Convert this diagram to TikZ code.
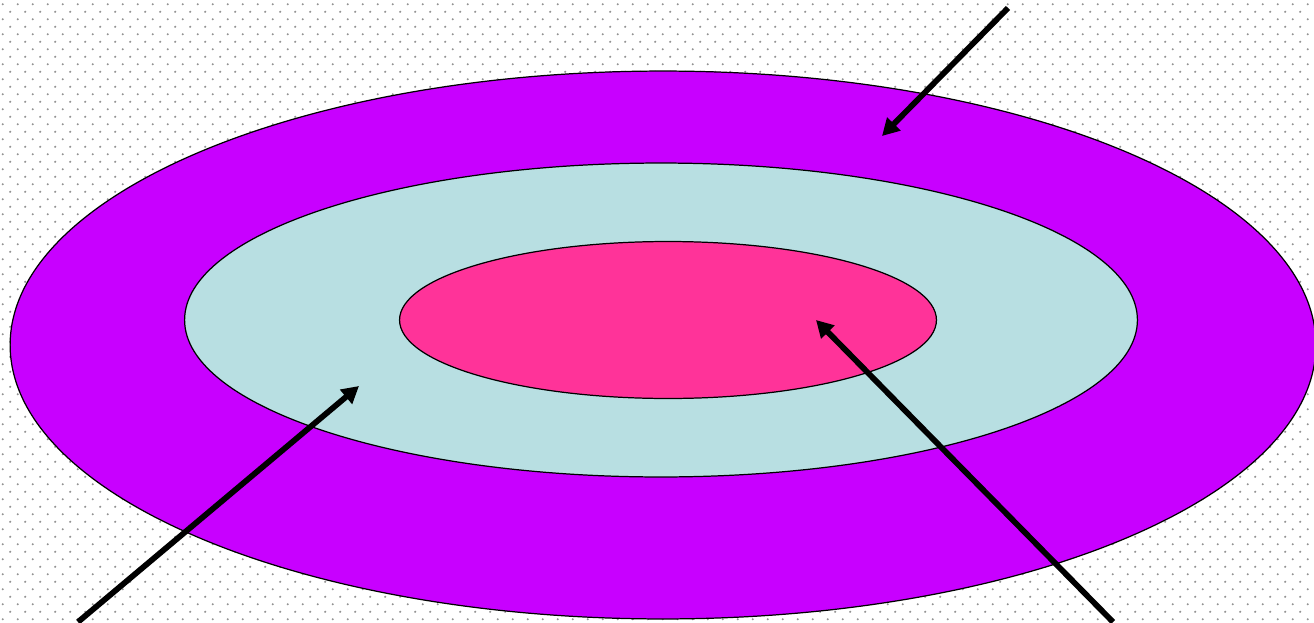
\documentclass[tikz,border=0pt]{standalone}
\usepackage{tikz}
\usetikzlibrary{arrows.meta,shapes.geometric,patterns}
\definecolor{outerpurple}{HTML}{C800FF}
\definecolor{midcyan}{HTML}{B8DFE2}
\definecolor{innerpink}{HTML}{FF3399}
\pgfdeclarepatternformonly{bgdots}{\pgfqpoint{0pt}{0pt}}{\pgfqpoint{8.8pt}{8.8pt}}{\pgfqpoint{8.8pt}{8.8pt}}{
    \pgfpathcircle{\pgfqpoint{2.2pt}{2.2pt}}{0.7pt}
    \pgfpathcircle{\pgfqpoint{6.6pt}{6.6pt}}{0.7pt}
    \pgfusepath{fill}}
\tikzset{
    ring/.style={ellipse,draw,line width=0.7pt,inner sep=0pt},
    pointer/.style={-{Triangle[length=3.4mm,width=3.6mm]},line width=1.15mm,line cap=butt}
}

\begin{document}
\begin{tikzpicture}[x=0.02cm,y=-0.02cm]
    \useasboundingbox (0,0) rectangle (1314,622);
    \fill[pattern=bgdots,pattern color=gray!85] (0,0) rectangle (1314,622);
    % target rings
    \node[ring,fill=outerpurple,minimum width=26.12cm,minimum height=10.96cm] (outer) at (663,345) {};
    \node[ring,fill=midcyan,minimum width=19.06cm,minimum height=6.28cm] (middle) at (661,320) {};
    \node[ring,fill=innerpink,minimum width=10.74cm,minimum height=3.14cm] (inner) at (668,320) {};
    % arrows
    \coordinate (topstart) at (1008,8);
    \coordinate (toptip) at (882,136);
    \coordinate (leftstart) at (78,622);
    \coordinate (lefttip) at (359,386);
    \coordinate (rightstart) at (1113,622);
    \coordinate (righttip) at (816,320);
    \draw[pointer] (topstart) -- (toptip);
    \draw[pointer] (leftstart) -- (lefttip);
    \draw[pointer] (rightstart) -- (righttip);
\end{tikzpicture}
\end{document}
